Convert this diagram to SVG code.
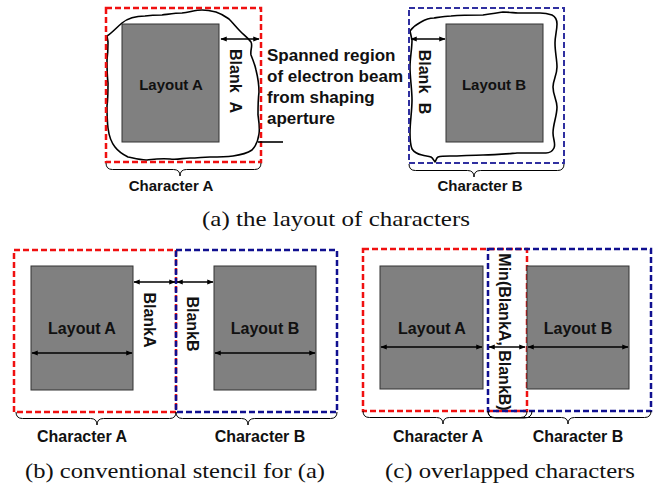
<svg xmlns="http://www.w3.org/2000/svg" width="653" height="483" viewBox="0 0 653 483">
<style>
.lay{fill:#808080;stroke:#333;stroke-width:1}
.red{fill:none;stroke:#f01010;stroke-width:2.5;stroke-dasharray:6 3}
.blue{fill:none;stroke:#101090;stroke-width:2.5;stroke-dasharray:6 3}
.bluea{fill:none;stroke:#3030a0;stroke-width:2;stroke-dasharray:6 3}
.blob{fill:none;stroke:#000;stroke-width:1.6;stroke-linejoin:round}
.br{fill:none;stroke:#000;stroke-width:1}
.arr{stroke:#000;stroke-width:1.6;marker-start:url(#ah);marker-end:url(#ah)}
.t{font-family:"Liberation Sans",Arial,sans-serif;font-weight:bold;fill:#111;font-size:15px;text-anchor:middle}
.t16{font-family:"Liberation Sans",Arial,sans-serif;font-weight:bold;fill:#111;font-size:16px;text-anchor:middle}
.tr{font-family:"Liberation Sans",Arial,sans-serif;font-weight:bold;fill:#111;font-size:16px;text-anchor:middle}
.sp{font-family:"Liberation Sans",Arial,sans-serif;font-weight:bold;fill:#111;font-size:17px}
.cap{font-family:"Liberation Serif","Times New Roman",serif;fill:#111;font-size:21px}
</style>
<defs>
<marker id="ah" viewBox="0 0 10 10" refX="9" refY="5" markerWidth="4" markerHeight="4" orient="auto-start-reverse" markerUnits="strokeWidth">
<path d="M0,1 L10,5 L0,9 Z" fill="#000"/>
</marker>
</defs>

<g id="panel-a-charA">
<rect class="lay" x="122" y="24" width="97" height="118"/>
<path class="blob" d="M107,36 C112,33 116,28 122,23 C128,18 136,16 145,16 C152,15 158,15 162,15 C170,14 176,13 182,13 C190,12 196,10 202,10 C208,10 212,11 216,12 C222,14 226,17 229,19 C233,23 236,27 240,31 C244,35 248,38 251,42 C253,46 250,50 251,55 C253,60 255,65 256,70 C258,78 259,85 259,92 C258,100 258,108 258,115 C259,122 260,128 259,134 C258,141 256,146 252,150 C246,154 240,155 233,156 C225,157 218,157 210,157 C203,157 198,158 190,158 C183,158 178,160 170,159 C162,158 155,159 146,160 C140,160 133,158 128,157 C122,154 118,151 115,147 C111,142 109,136 108,128 C107,120 107,113 107,106 C108,98 108,90 108,83 C107,75 107,67 107,60 C108,52 108,46 108,42 Z"/>
<rect class="red" x="106" y="8" width="155" height="154"/>
<line class="arr" x1="221" y1="39" x2="259" y2="39"/>
<text class="t" x="171" y="90">Layout A</text>
<text class="tr" transform="translate(235,81) rotate(90)" y="5.5" word-spacing="5">Blank A</text>
<path class="br" d="M106,163 Q106,169.5 112.5,169.5 L173.5,169.5 Q180,169.5 180,176 Q180,169.5 186.5,169.5 L254.5,169.5 Q261,169.5 261,163"/>
<text class="t" x="171" y="191">Character A</text>
</g>

<g id="panel-a-label">
<line x1="258" y1="142" x2="283" y2="142" stroke="#000" stroke-width="1.6"/>
<text class="sp" x="267" y="61">Spanned region</text>
<text class="sp" x="267" y="82">of electron beam</text>
<text class="sp" x="267" y="103">from shaping</text>
<text class="sp" x="267" y="124">aperture</text>
</g>

<g id="panel-a-charB">
<rect class="lay" x="446" y="24" width="97" height="118"/>
<path class="blob" d="M410,31 C413,27 417,24 421,22 C426,19 430,18 434,18 C440,17 445,16 451,16 C462,15 472,15 483,15 C490,14 497,13 503,12 C510,12 514,13 518,13 C526,13 533,13 540,13 C545,13 549,14 552,15 C556,17 557,20 557,24 C557,30 555,36 555,43 C555,52 557,60 557,67 C557,75 553,80 553,87 C553,95 557,100 557,107 C557,116 553,124 553,133 C553,139 556,144 554,148 C552,152 549,153 546,153 C536,153 527,153 517,153 C505,154 495,155 483,155 C472,155 461,156 450,156 C445,156 441,156 438,157 C436,158 436,161 435,162 C434,161 433,158 431,157 C428,156 425,156 422,155 C417,154 414,152 412,149 C410,144 410,139 410,133 C410,122 412,111 412,100 C412,89 410,78 410,67 C410,58 412,49 412,40 Z"/>
<rect class="bluea" x="409" y="8" width="155" height="155"/>
<line class="arr" x1="411" y1="39" x2="445" y2="39"/>
<text class="t" x="494" y="90">Layout B</text>
<text class="tr" transform="translate(424,82) rotate(90)" y="5.5" word-spacing="5">Blank B</text>
<path class="br" d="M409,164 Q409,170.5 415.5,170.5 L467.5,170.5 Q474,170.5 474,177 Q474,170.5 480.5,170.5 L557.5,170.5 Q564,170.5 564,164"/>
<text class="t" x="480" y="191">Character B</text>
</g>

<text class="cap" x="202" y="226" textLength="268" lengthAdjust="spacingAndGlyphs">(a) the layout of characters</text>

<g id="panel-b-charA">
<rect class="lay" x="31" y="266" width="102" height="124"/>
<rect class="red" x="14" y="250" width="162" height="162"/>
<text class="t16" x="82" y="334">Layout A</text>
<text class="tr" transform="translate(149,320) rotate(90)" y="5.5">BlankA</text>
<path class="br" d="M16,412 Q16,418.5 22.5,418.5 L90.5,418.5 Q97,418.5 97,425 Q97,418.5 103.5,418.5 L169.5,418.5 Q176,418.5 176,412"/>
<text class="t16" x="82" y="442">Character A</text>
</g>

<g id="panel-b-charB">
<rect class="lay" x="214" y="266" width="102" height="124"/>
<rect class="blue" x="176" y="250" width="161" height="162"/>
<text class="t16" x="265" y="334">Layout B</text>
<text class="tr" transform="translate(192,324) rotate(90)" y="5.5">BlankB</text>
<path class="br" d="M176,412 Q176,418.5 182.5,418.5 L241.5,418.5 Q248,418.5 248,425 Q248,418.5 254.5,418.5 L330.5,418.5 Q337,418.5 337,412"/>
<text class="t16" x="260" y="442">Character B</text>
</g>

<g id="panel-c-charA">
<rect class="lay" x="380" y="266" width="103" height="123"/>
<rect class="red" x="363" y="249" width="164" height="162"/>
<text class="t16" x="432" y="334">Layout A</text>
<path class="br" d="M363,411 Q363,417.5 369.5,417.5 L436.5,417.5 Q443,417.5 443,424 Q443,417.5 449.5,417.5 L520.5,417.5 Q527,417.5 527,411"/>
<text class="t16" x="438" y="442">Character A</text>
</g>

<g id="panel-c-charB">
<rect class="lay" x="527" y="266" width="102" height="123"/>
<rect class="blue" x="488" y="249" width="163" height="162"/>
<text class="t16" x="578" y="334">Layout B</text>
<path class="br" d="M488,411 Q488,417.5 494.5,417.5 L561.5,417.5 Q568,417.5 568,424 Q568,417.5 574.5,417.5 L644.5,417.5 Q651,417.5 651,411"/>
<text class="t16" x="578" y="442">Character B</text>
</g>

<g id="panel-c-overlap">
<rect x="494" y="251" width="20" height="158" fill="#fff"/>
<path class="br" d="M488,411 Q488,418 496,418 L524,418 Q532,418 532,411"/>
<text class="tr" transform="translate(504,332) rotate(90)" y="5.5">Min(BlankA, BlankB)</text>
</g>

<g id="connectors">
<line class="arr" x1="134" y1="282" x2="175" y2="282"/>
<line class="arr" x1="177" y1="282" x2="213" y2="282"/>
<line class="arr" x1="32" y1="353" x2="132" y2="353"/>
<line class="arr" x1="215" y1="353" x2="315" y2="353"/>
<line class="arr" x1="381" y1="347" x2="482" y2="347"/>
<line class="arr" x1="489" y1="347" x2="525" y2="347"/>
<line class="arr" x1="528" y1="347" x2="628" y2="347"/>
</g>

<text class="cap" x="25" y="478" textLength="300" lengthAdjust="spacingAndGlyphs">(b) conventional stencil for (a)</text>
<text class="cap" x="385" y="478" textLength="250" lengthAdjust="spacingAndGlyphs">(c) overlapped characters</text>
</svg>
